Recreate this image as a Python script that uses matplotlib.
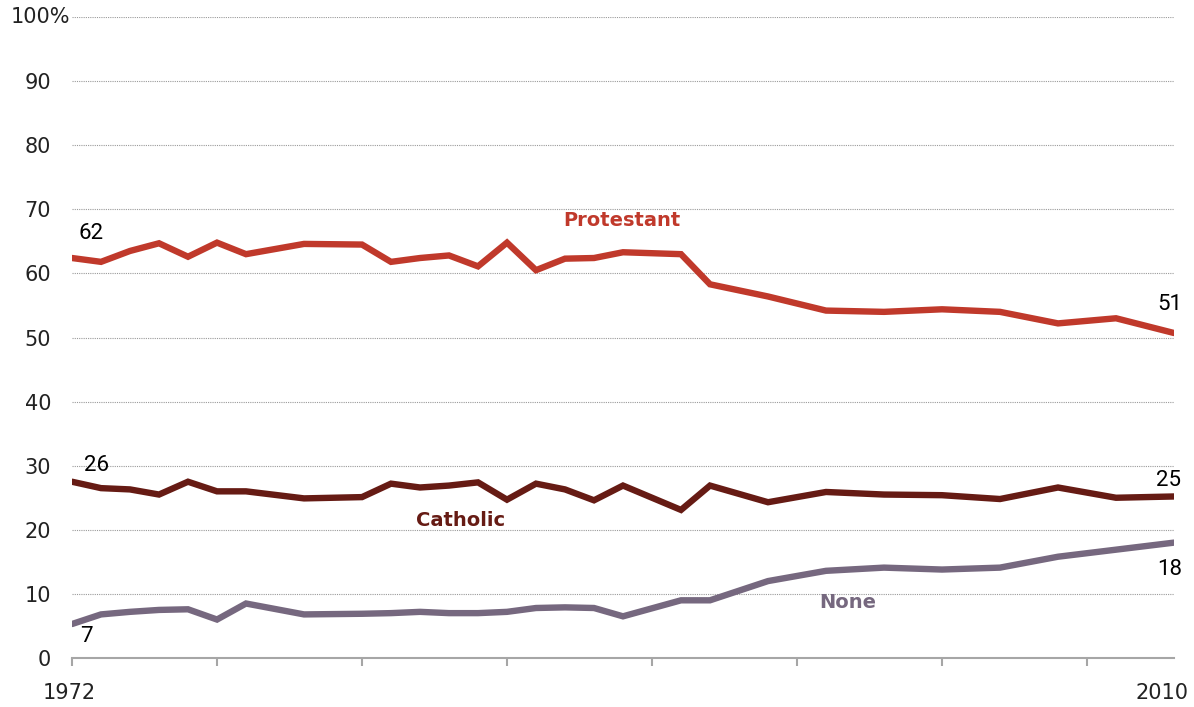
import numpy as np
import matplotlib
matplotlib.use('Agg')
import matplotlib.pyplot as plt
import matplotlib.transforms as mtransforms

# % Data (GSS survey years)

years = [1972, 1973, 1974, 1975, 1976, 1977, 1978, 1980, 1982, 1983, 1984,
         1985, 1986, 1987, 1988, 1989, 1990, 1991, 1993, 1994, 1996, 1998,
         2000, 2002, 2004, 2006, 2008, 2010]

protestant = [62.4, 61.8, 63.5, 64.7, 62.6, 64.8, 63.0, 64.6, 64.5, 61.8, 62.4,
              62.8, 61.1, 64.8, 60.5, 62.3, 62.4, 63.3, 63.0, 58.3, 56.4, 54.2,
              54.0, 54.4, 54.0, 52.2, 53.0, 50.7]

catholic = [27.5, 26.5, 26.3, 25.5, 27.5, 26.0, 26.0, 24.9, 25.1, 27.2, 26.6,
            26.9, 27.4, 24.7, 27.2, 26.3, 24.6, 26.9, 23.1, 26.9, 24.3, 25.9,
            25.5, 25.4, 24.8, 26.6, 25.0, 25.2]

none = [5.3, 6.8, 7.2, 7.5, 7.6, 6.0, 8.5, 6.8, 6.9, 7.0, 7.2,
        7.0, 7.0, 7.2, 7.8, 7.9, 7.8, 6.5, 9.0, 9.0, 12.0, 13.6,
        14.1, 13.8, 14.1, 15.8, 16.9, 18.0]

series_names = ['Protestant', 'Catholic', 'None']
start_labels = ['62', '26', '7']
end_labels = ['51', '25', '18']

y_ticks = [0, 10, 20, 30, 40, 50, 60, 70, 80, 90, 100]
x_ticks = [1972, 1977, 1982, 1987, 1992, 1997, 2002, 2007]

# %% Plotting

col_prot = '#c0392b'
col_cath = '#661b14'
col_none = '#76687f'
col_txt = '#222222'

fig = plt.figure(figsize=(11.94, 7.07), dpi=100)
ax = fig.add_axes([72/1194, 1 - 658/707, (1174 - 72)/1194, (658 - 17)/707])

lw = 4.6
for vals, col in [(protestant, col_prot), (catholic, col_cath), (none, col_none)]:
    ax.plot(years, vals, color=col, lw=lw, solid_capstyle='round', solid_joinstyle='miter', zorder=3)

ax.set_xlim(1972, 2010)
ax.set_ylim(0, 100)

for yv in y_ticks[1:]:
    ax.axhline(yv, color='#9a9a9a', lw=0.8, ls=(0, (1, 1)), zorder=1)

for side in ['top', 'right', 'left']:
    ax.spines[side].set_visible(False)
ax.spines['bottom'].set_color('#a6a6a6')
ax.spines['bottom'].set_linewidth(1.5)

ax.set_xticks(x_ticks)
ax.set_xticklabels([])
ax.tick_params(axis='x', direction='out', length=6, width=1.5, color='#a6a6a6')

ax.set_yticks(y_ticks)
ax.set_yticklabels([str(v) for v in y_ticks[:-1]] + [''], fontsize=15, color=col_txt)
ax.tick_params(axis='y', length=0, pad=15)
# top label carries the % sign and sticks out to the right
trans = mtransforms.blended_transform_factory(ax.transAxes, ax.transData)
ax.text(-2/1102, 100, '100%', transform=trans, ha='right', va='center', fontsize=15, color=col_txt)

# year labels under the axis
trans_x = mtransforms.blended_transform_factory(ax.transData, fig.transFigure)
ax.text(years[0] - 0.1, 1 - 693/707, str(years[0]), transform=trans_x, ha='center', va='center',
        fontsize=15, color=col_txt)
ax.text(years[-1] - 0.4, 1 - 693/707, str(years[-1]), transform=trans_x, ha='center', va='center',
        fontsize=15, color=col_txt)

# series names
lab_font = dict(family='DejaVu Sans', fontweight='bold', fontsize=14, ha='center', va='center')
ax.text(1990.97, 68.3, series_names[0], color=col_prot, **lab_font)
ax.text(1985.4, 21.5, series_names[1], color=col_cath, **lab_font)
ax.text(1998.76, 8.6, series_names[2], color=col_none, **lab_font)

# start / end values
num_font = dict(family='Roboto', fontsize=16, color='black', ha='center', va='center')
ax.text(1972.67, 66.25, start_labels[0], **num_font)
ax.text(1972.85, 30.0, start_labels[1], **num_font)
ax.text(1972.5, 3.4, start_labels[2], **num_font)
ax.text(2009.85, 55.1, end_labels[0], **num_font)
ax.text(2009.8, 27.7, end_labels[1], **num_font)
ax.text(2009.85, 13.8, end_labels[2], **num_font)

plt.savefig('out.png', dpi=100)
